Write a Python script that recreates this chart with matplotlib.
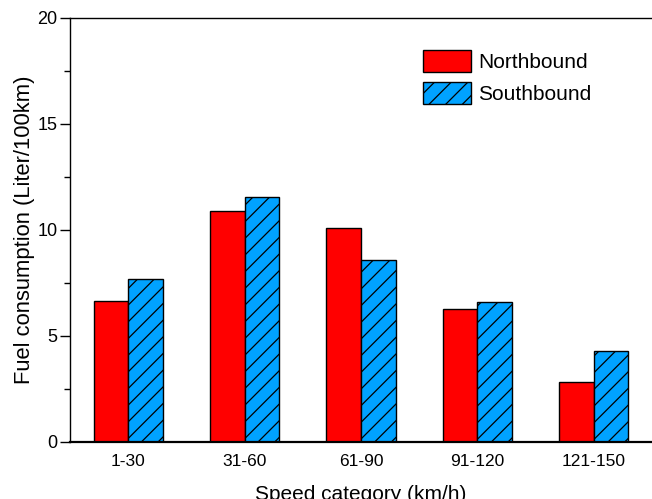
import numpy as np
import matplotlib
matplotlib.use("Agg")
import matplotlib.pyplot as plt
from matplotlib.ticker import MultipleLocator

plt.rcParams['font.family'] = ['Liberation Sans', 'DejaVu Sans']
plt.rcParams['hatch.linewidth'] = 0.9

categories = ["1-30", "31-60", "61-90", "91-120", "121-150"]
northbound = [6.63, 10.89, 10.08, 6.27, 2.81]
southbound = [7.69, 11.55, 8.59, 6.59, 4.30]

fig = plt.figure(figsize=(6.52, 4.99), dpi=100)
ax = fig.add_axes([70 / 652, 1 - 442 / 499, 582 / 652, 424 / 499])

x = np.arange(len(categories))
w = 0.297
ax.bar(x - w / 2, northbound, w, color='#FF0000', edgecolor='black',
       linewidth=1.0, label='Northbound')
ax.bar(x + w / 2, southbound, w, color='#00A2FF', edgecolor='black',
       linewidth=1.0, hatch='//', label='Southbound')

ax.set_xlim(-0.5, 4.5)
ax.set_ylim(0, 20)
ax.set_xticks(x)
ax.set_xticklabels(categories)
ax.yaxis.set_major_locator(MultipleLocator(5))
ax.yaxis.set_minor_locator(MultipleLocator(2.5))
ax.tick_params(axis='x', length=0, pad=9, labelsize=12.5)
ax.tick_params(axis='y', which='major', length=7, width=1, labelsize=13, pad=2)
ax.tick_params(axis='y', which='minor', length=4, width=1)

ax.spines['right'].set_visible(False)
ax.spines['left'].set_linewidth(1.0)
ax.spines['top'].set_linewidth(1.0)
ax.spines['bottom'].set_linewidth(1.6)

ax.set_xlabel("Speed category (km/h)", fontsize=15, labelpad=11)
ax.set_ylabel("Fuel consumption (Liter/100km)", fontsize=15.8, labelpad=2)

ax.legend(loc='upper left', bbox_to_anchor=(0.588, 0.95), frameon=False,
          fontsize=15, borderpad=0, handlelength=2.3, handleheight=1.25,
          handletextpad=0.35, labelspacing=0.5)

fig.savefig("out.png", dpi=100)
